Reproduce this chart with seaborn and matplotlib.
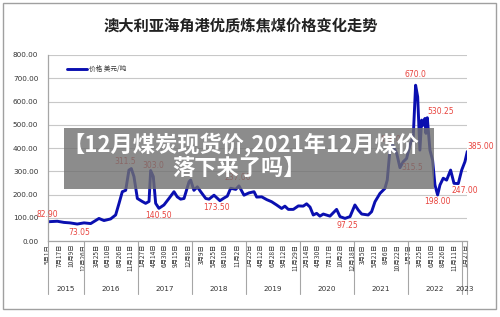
import pandas as pd
import matplotlib
matplotlib.use("Agg")
import matplotlib.pyplot as plt
import matplotlib.transforms as mtransforms
from matplotlib.patches import Rectangle
import seaborn as sns

# ---- data ----
dates = [
    "2015-05-01", "2015-07-03", "2015-08-17", "2015-09-27", "2015-11-15", "2015-12-31",
    "2016-02-14", "2016-04-10", "2016-05-14", "2016-06-28", "2016-08-01", "2016-08-24",
    "2016-09-15", "2016-10-08", "2016-10-30", "2016-11-15", "2016-12-03", "2016-12-26",
    "2017-01-28", "2017-02-20", "2017-03-15", "2017-03-26", "2017-04-13", "2017-04-29",
    "2017-05-21", "2017-06-24", "2017-07-28", "2017-08-31", "2017-09-22", "2017-10-15",
    "2017-11-07", "2017-12-11", "2017-12-22", "2018-01-13", "2018-02-05", "2018-02-28",
    "2018-04-03", "2018-04-25", "2018-05-29", "2018-07-08", "2018-08-05", "2018-08-27",
    "2018-09-19", "2018-10-23", "2018-11-14", "2018-12-18", "2019-01-21", "2019-02-24",
    "2019-03-14", "2019-04-17", "2019-05-21", "2019-06-23", "2019-07-27", "2019-08-30",
    "2019-09-21", "2019-10-14", "2019-11-17", "2019-12-21", "2020-01-23", "2020-02-15",
    "2020-03-09", "2020-03-31", "2020-04-23", "2020-05-15", "2020-06-07", "2020-07-22",
    "2020-09-05", "2020-09-28", "2020-11-01", "2020-12-05", "2021-01-07", "2021-01-30",
    "2021-02-22", "2021-04-07", "2021-04-30", "2021-05-23", "2021-06-26", "2021-07-29",
    "2021-08-14", "2021-09-01", "2021-09-20", "2021-10-17", "2021-11-08", "2021-11-30",
    "2021-12-23", "2022-01-15", "2022-02-06", "2022-02-22", "2022-03-08", "2022-03-23",
    "2022-04-04", "2022-04-15", "2022-04-26", "2022-05-03", "2022-05-12", "2022-05-30",
    "2022-06-17", "2022-07-03", "2022-07-21", "2022-08-06", "2022-08-28", "2022-09-20",
    "2022-10-17", "2022-11-09", "2022-12-08", "2022-12-31", "2023-01-22", "2023-02-07",
]
prices = [
    82.9, 85, 80, 78, 73.05, 78,
    75, 97, 88, 95, 112, 162,
    212, 218, 305, 311.5, 277, 183,
    170, 162, 170, 303, 277, 162,
    140.5, 155, 183, 212, 190, 180,
    183, 255, 262, 218, 233, 212,
    183, 180, 197, 173.5, 185, 193,
    227, 222, 237, 197, 207, 212,
    189, 190, 178, 169, 155, 140,
    150, 136, 136, 151, 150, 160,
    146, 112, 119, 107, 116, 107,
    136, 105, 97.25, 105, 155, 133,
    116, 112, 126, 169, 205, 226,
    262, 391, 413, 377, 315.5, 341,
    355, 413, 449, 670, 620, 391,
    520, 498, 527, 463, 530.25, 391,
    348, 241, 198, 241, 270, 262,
    305, 248, 247, 305, 341, 385,
]

# data labels shown on the curve: date of point, text
label_dates = ["2015-05-01", "2015-11-15", "2016-11-15", "2017-03-26", "2017-05-21",
               "2018-07-08", "2018-11-14", "2020-11-01", "2021-09-20", "2022-02-22",
               "2022-05-12", "2021-11-08", "2023-02-07", "2022-12-08", "2022-07-21"]
label_texts = ["82.90", "73.05", "311.5", "303.0", "140.50",
               "173.50", "237.00", "97.25", "413.0", "670.0",
               "530.25", "315.5", "385.00", "247.00", "198.00"]

# category labels on the x axis
tick_dates = [
    "2015-05-01", "2015-07-17", "2015-10-09", "2015-12-26",
    "2016-03-25", "2016-06-10", "2016-08-26", "2016-11-11",
    "2017-01-27", "2017-04-14", "2017-06-30", "2017-09-15", "2017-12-08",
    "2018-03-09", "2018-05-25", "2018-08-10", "2018-11-02",
    "2019-01-25", "2019-04-12", "2019-06-28", "2019-09-12", "2019-11-29",
    "2020-02-14", "2020-04-30", "2020-07-17", "2020-10-02", "2020-12-18",
    "2021-03-05", "2021-05-21", "2021-08-06", "2021-10-22",
    "2022-01-07", "2022-03-25", "2022-06-10", "2022-08-26", "2022-11-11",
    "2023-01-27",
]
years = [2015, 2016, 2017, 2018, 2019, 2020, 2021, 2022, 2023]

title = "澳大利亚海角港优质炼焦煤价格变化走势"
series_name = "价格 美元/吨"
banner_lines = ["【12月煤炭现货价,2021年12月煤价", "落下来了吗】"]

# ---- style ----
sns.set_style("white")
plt.rcParams["font.family"] = ["DejaVu Sans", "Noto Sans CJK SC"]
CJK = ["Noto Sans CJK SC", "DejaVu Sans"]
LINE = "#0a0fb0"
RED = "#e8433d"
GRID = "#c8c8c8"
AXIS = "#a6a6a6"

df = pd.DataFrame({"date": pd.to_datetime(dates), "price": prices})
start, end = df["date"].iloc[0], df["date"].iloc[-1]

fig = plt.figure(figsize=(5.0, 3.17), dpi=100)
fig.patches.append(Rectangle((0.005, 0.025), 0.986, 0.966, transform=fig.transFigure,
                             fill=False, edgecolor="#a0a0a0", linewidth=1.0))
fig.text(0.482, 1 - 25 / 317, title, ha="center", va="center", fontsize=11,
         fontweight="bold", family=CJK, color="#222222")

ax = fig.add_axes([0.096, 0.2397, 0.8386, 0.5868])
sns.lineplot(data=df, x="date", y="price", ax=ax, color=LINE, linewidth=2.1,
             label=series_name)

ax.set_xlim(start, end)
ax.set_ylim(0, 800)
ax.set_yticks(range(0, 801, 100))
ax.set_yticklabels([f"{v:.2f}" for v in range(0, 801, 100)], fontsize=5.2, color="#333333")
ax.yaxis.grid(True, color=GRID, linewidth=0.8)
ax.set_axisbelow(True)
ax.set_xlabel("")
ax.set_ylabel("")
ax.tick_params(axis="y", length=0, pad=7)
for s in ["top", "right"]:
    ax.spines[s].set_visible(False)
for s in ["left", "bottom"]:
    ax.spines[s].set_color(AXIS)
    ax.spines[s].set_linewidth(0.9)

tdates = pd.to_datetime(tick_dates)
ax.set_xticks(tdates)
ax.set_xticklabels([f"{d.month}月{d.day}日" for d in tdates], rotation=90,
                   fontsize=4.6, family=CJK, color="#333333")
ax.tick_params(axis="x", length=0, pad=2)

# year groups below the date labels
trans = mtransforms.blended_transform_factory(ax.transData, ax.transAxes)
bounds = [start] + [pd.Timestamp(f"{y + 1}-01-01") for y in years[:-1]] + [end]
for b in bounds:
    ax.plot([b, b], [0, -0.285], transform=trans, clip_on=False, color=AXIS, linewidth=0.8)
for y, a, b in zip(years, bounds[:-1], bounds[1:]):
    ax.text(a + (b - a) / 2, -0.258, str(y), transform=trans, ha="center", va="center",
            fontsize=5.2, color="#333333")

# data labels
offsets = [(-1, 7), (2, -8), (-6, 7), (3, 5), (0, -7),
           (-3, -7), (-1, 8), (2, -7), (-2, 5), (0, 11),
           (13, 6), (12, 0), (13, 5), (7, -7), (0, -7)]
lookup = dict(zip(df["date"], df["price"]))
for d, txt, (dx, dy) in zip(pd.to_datetime(label_dates), label_texts, offsets):
    ax.annotate(txt, (d, lookup[d]), xytext=(dx * 0.72, dy * 0.72), textcoords="offset points",
                ha="center", va="center", fontsize=5.5, color=RED, annotation_clip=False)

leg = ax.legend(loc="center left", bbox_to_anchor=(0.04, 0.925), frameon=False,
                fontsize=4.8, handlelength=3.0, borderaxespad=0, handletextpad=0.3)
for t in leg.get_texts():
    t.set_family(CJK)
    t.set_color("#333333")

# grey banner laid over the chart
fig.patches.append(Rectangle((64 / 500, 1 - 189 / 317), 370 / 500, 61 / 317,
                             transform=fig.transFigure, facecolor="#707070", alpha=0.8,
                             edgecolor="none", zorder=5))
fig.text(0.482, 1 - 145 / 317, banner_lines[0], ha="center", va="center", fontsize=16,
         fontweight="bold", family=CJK, color="white", zorder=6)
fig.text(0.478, 1 - 169 / 317, banner_lines[1], ha="center", va="center", fontsize=16,
         fontweight="bold", family=CJK, color="white", zorder=6)

fig.savefig("out.png", dpi=100)
